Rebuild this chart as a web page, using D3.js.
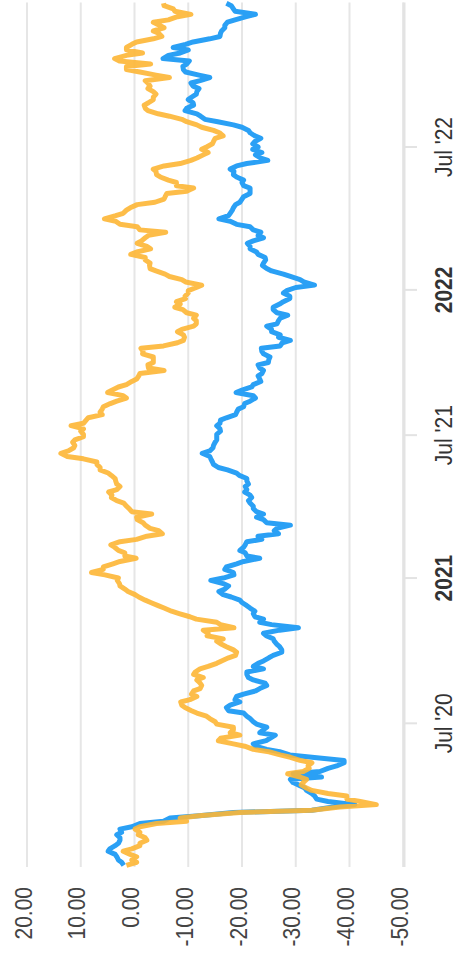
<!DOCTYPE html>
<html>
<head>
<meta charset="utf-8">
<script src="https://cdn.jsdelivr.net/npm/d3@7"></script>
<style>
  html, body { margin: 0; padding: 0; background: #ffffff; }
  svg { display: block; }
  text { font-family: "Liberation Sans", Arial, Helvetica, sans-serif; }
</style>
</head>
<body>
<svg id="chart" width="458" height="964"></svg>
<script>
// Twice-weekly closes (Friday and the following Tuesday), cumulative change in percent
const firstFriday = "2020-01-03";

const valueTicks = [20, 10, 0, -10, -20, -30, -40, -50];
const dateTicks = ["2020-07-01", "2021-01-01", "2021-07-01", "2022-01-01", "2022-07-01"];
const dateTickLabels = ["Jul '20", "2021", "Jul '21", "2022", "Jul '22"];
const boldTicks = ["2021", "2022"];

const blueFriday = [
  2.0, 3.0, 3.6, 4.6, 3.0, 2.7, 2.4, 0.5, -5.4, -12.0,
  -33.0, -41.0, -33.9, -33.0, -31.7, -29.5, -34.8, -34.5, -37.6, -39.0,
  -28.9, -24.6, -22.1, -25.2, -23.3, -24.6, -22.1, -20.9, -17.5, -17.8,
  -18.7, -20.3, -23.3, -24.3, -21.2, -20.9, -22.1, -24.0, -25.8, -27.4,
  -26.5, -25.8, -24.0, -30.5, -23.3, -22.4, -22.4, -20.9, -19.6, -16.5,
  -16.8, -16.5, -16.5, -18.4, -17.1, -20.3, -20.9, -19.6, -20.6, -23.7,
  -26.8, -26.5, -24.6, -22.7, -22.7, -22.1, -21.2, -21.5, -20.9, -21.2,
  -20.9, -19.0, -15.6, -14.5, -14.0, -14.0, -14.7, -15.3, -15.3, -15.9,
  -15.9, -17.1, -19.0, -20.3, -21.5, -22.1, -20.0, -22.1, -23.3, -23.7,
  -23.3, -24.9, -25.2, -23.7, -27.1, -29.0, -27.1, -25.5, -26.5, -27.1,
  -26.5, -25.8, -27.7, -28.9, -28.3, -33.5, -30.8, -27.7, -24.6, -24.0,
  -24.3, -22.7, -21.5, -22.1, -23.0, -22.1, -19.0, -15.7, -17.8, -18.4,
  -19.6, -20.3, -21.5, -20.3, -20.3, -18.4, -17.8, -20.9, -23.5, -23.7,
  -23.0, -22.4, -22.4, -21.2, -18.4, -13.1, -11.6, -9.7, -10.9, -10.6,
  -11.6, -10.9, -12.2, -12.0, -9.1, -9.7, -5.3, -8.5, -7.2, -10.9,
  -15.9, -16.2, -16.8, -18.7, -22.5, -18.4, -17.1
];
const blueTuesday = [
  2.4, 3.3, 4.9, 3.6, 2.7, 3.3, 2.7, -1.0, -6.6, -18.4,
  -37.0, -36.0, -33.5, -32.0, -30.5, -29.0, -29.5, -36.0, -39.0, -33.0,
  -27.0, -22.5, -24.5, -26.2, -24.0, -22.7, -21.5, -20.3, -17.1, -19.6,
  -19.0, -22.5, -24.6, -22.1, -20.9, -24.0, -23.0, -25.0, -27.4, -27.0,
  -26.0, -24.5, -27.0, -25.5, -24.0, -22.1, -21.5, -20.0, -18.0, -15.7,
  -17.5, -14.2, -18.5, -16.8, -19.0, -23.3, -20.6, -20.3, -20.9, -23.0,
  -26.0, -29.0, -24.0, -24.0, -22.1, -21.5, -21.8, -20.5, -20.6, -20.9,
  -19.5, -17.3, -14.7, -14.2, -12.6, -14.6, -15.0, -15.3, -16.0, -15.3,
  -16.0, -18.8, -19.3, -20.5, -22.5, -18.9, -21.8, -23.5, -23.0, -24.0,
  -23.0, -25.0, -24.0, -23.6, -27.5, -26.8, -25.5, -24.6, -26.8, -28.5,
  -25.8, -27.0, -28.9, -27.7, -30.0, -31.5, -29.0, -25.5, -23.8, -24.4,
  -23.0, -21.5, -21.0, -24.0, -23.5, -21.5, -17.8, -17.5, -18.2, -18.8,
  -20.0, -21.5, -21.5, -20.0, -19.0, -18.5, -19.0, -24.8, -22.5, -22.0,
  -22.0, -23.5, -21.5, -20.0, -15.5, -12.3, -9.4, -11.0, -10.0, -11.5,
  -12.0, -10.5, -14.0, -9.5, -9.0, -10.2, -6.3, -10.0, -9.5, -14.0,
  -16.0, -16.8, -17.3, -20.8, -18.7, -18.0
];

const orangeFriday = [
  1.5, 0.5, 0.8, 0.5, -1.0, -2.0, -1.0, -1.0, -9.7, -12.0,
  -33.0, -45.0, -39.5, -36.0, -32.0, -31.4, -30.8, -31.4, -32.3, -30.8,
  -27.1, -22.1, -18.4, -16.0, -17.8, -18.4, -15.0, -13.4, -10.6, -8.8,
  -10.3, -10.6, -12.2, -12.2, -12.8, -11.3, -13.7, -16.2, -18.8, -18.4,
  -16.2, -16.5, -13.7, -18.5, -15.3, -10.3, -6.9, -4.4, -2.0, -0.1,
  1.8, 2.8, 3.0, 8.0, 5.8, 2.7, 1.8, 3.0, 4.4, -0.4,
  -5.2, -2.9, -1.6, -0.4, 0.5, 1.5, 3.3, 4.2, 3.3, 3.3,
  3.6, 4.9, 6.4, 7.0, 12.5, 12.3, 11.1, 11.1, 9.5, 9.5,
  9.5, 8.6, 6.4, 5.8, 3.3, 2.1, 4.2, 1.5, -0.4, -1.0,
  -2.6, -3.5, -3.5, -1.6, -5.4, -9.1, -9.1, -8.8, -11.5, -11.0,
  -9.7, -7.5, -7.8, -9.4, -10.0, -12.5, -8.8, -5.7, -2.9, -2.9,
  -2.0, -0.4, -2.3, -1.3, -2.6, -1.0, 2.7, 5.6, 2.1, 0.8,
  -3.8, -5.7, -9.7, -7.8, -6.3, -4.1, -3.5, -8.5, -11.6, -13.7,
  -13.4, -14.7, -16.5, -14.7, -11.6, -8.8, -4.4, -2.0, -2.6, -3.5,
  -3.5, -2.9, -2.0, -4.0, 1.5, -3.0, 3.7, -1.5, 1.5, -0.4,
  -5.1, -3.5, -4.7, -6.3, -10.5, -7.2, -5.4
];
const orangeTuesday = [
  -0.4, -0.4, 2.1, -1.0, -2.3, -0.7, -0.1, -4.1, -8.5, -19.6,
  -38.2, -42.0, -39.5, -33.0, -31.0, -32.0, -28.5, -32.5, -33.0, -29.0,
  -25.0, -20.5, -15.6, -19.6, -18.4, -15.3, -14.0, -11.6, -9.4, -8.6,
  -11.6, -11.0, -12.5, -11.6, -11.0, -12.2, -15.3, -17.5, -19.0, -17.1,
  -15.3, -13.5, -12.8, -16.0, -11.5, -8.3, -5.5, -3.0, -0.8, 1.2,
  2.7, 3.2, 5.5, 5.8, 4.0, -0.3, 1.8, 3.7, 2.7, -2.3,
  -4.5, -2.0, -0.5, -3.2, 1.0, 2.0, 4.3, 4.8, 2.7, 3.5,
  4.3, 6.4, 7.0, 9.5, 13.7, 11.3, 11.5, 9.5, 10.0, 11.8,
  9.0, 6.0, 6.0, 4.5, 1.5, 5.0, 3.0, 0.5, -0.8, -5.5,
  -2.5, -3.5, -1.5, -1.2, -8.0, -9.3, -8.0, -11.0, -11.5, -11.5,
  -9.0, -8.5, -9.5, -10.0, -11.5, -9.5, -6.5, -4.0, -2.8, -2.0,
  0.7, -3.0, -0.5, -2.0, -5.8, -0.5, 3.5, 3.5, 1.5, -0.5,
  -5.5, -6.0, -11.0, -7.8, -4.8, -4.0, -5.5, -10.5, -12.8, -12.5,
  -14.5, -15.0, -15.8, -12.5, -9.7, -6.5, -2.5, -1.8, -3.5, -4.0,
  -2.5, -2.5, -6.5, -1.0, 1.5, 2.8, 1.5, 1.5, 0.5, -3.5,
  -4.5, -5.5, -3.5, -8.0, -7.5, -5.5
];

// The chart is laid out as an ordinary time chart (time left to right)
// and then turned a quarter turn counter-clockwise onto the page.
const pageH = 964;
const parse = d3.utcParse("%Y-%m-%d");
const start = parse(firstFriday);

function toRows(friday, tuesday) {
  const rows = [];
  friday.forEach((v, i) => {
    const fri = d3.utcDay.offset(start, 7 * i);
    rows.push({ date: fri, value: v });
    if (i < tuesday.length) rows.push({ date: d3.utcDay.offset(fri, 4), value: tuesday[i] });
  });
  return rows;
}

const x = d3.scaleUtc()
  .domain([new Date(Date.UTC(2020, 0, 1)), new Date(Date.UTC(2022, 11, 31))])
  .range([97, 961.5]);
const y = d3.scaleLinear().domain([-50, 20]).range([403.25, 27]);

// plain hyphen for negative numbers
const fmt = d3.formatLocale({
  decimal: ".", thousands: ",", grouping: [3], currency: ["$", ""], minus: "-"
}).format(".2f");

const svg = d3.select("#chart");
const g = svg.append("g").attr("transform", `translate(0,${pageH}) rotate(-90)`);

// horizontal grid
g.append("g").selectAll("line")
  .data(valueTicks)
  .join("line")
  .attr("x1", x.range()[0]).attr("x2", x.range()[1])
  .attr("y1", d => y(d)).attr("y2", d => y(d))
  .attr("stroke", "#e6e6e6").attr("stroke-width", 2);

// time axis line and ticks
g.append("line")
  .attr("x1", x.range()[0]).attr("x2", x.range()[1])
  .attr("y1", 404).attr("y2", 404)
  .attr("stroke", "#e3e3e3").attr("stroke-width", 3);

g.append("g").selectAll("line")
  .data(dateTicks)
  .join("line")
  .attr("x1", d => x(parse(d))).attr("x2", d => x(parse(d)))
  .attr("y1", 404).attr("y2", 417)
  .attr("stroke", "#e3e3e3").attr("stroke-width", 2);

g.append("g").selectAll("text")
  .data(dateTicks)
  .join("text")
  .attr("transform", d => `translate(${x(parse(d))},452) scale(1,1.1)`)
  .attr("text-anchor", "middle")
  .attr("font-size", 21)
  .attr("fill", "#333333")
  .attr("font-weight", (d, i) => boldTicks.includes(dateTickLabels[i]) ? "bold" : "normal")
  .text((d, i) => dateTickLabels[i]);

// value labels
g.append("g").selectAll("text")
  .data(valueTicks)
  .join("text")
  .attr("transform", d => `translate(77,${y(d) + 4.5}) scale(1,1.12)`)
  .attr("text-anchor", "end")
  .attr("font-size", 21)
  .attr("fill", "#444444")
  .text(d => fmt(d));

// series
const line = d3.line()
  .x(d => x(d.date))
  .y(d => y(d.value));

g.append("path")
  .datum(toRows(blueFriday, blueTuesday))
  .attr("d", line)
  .attr("fill", "none")
  .attr("stroke", "#2aa0f5")
  .attr("stroke-width", 5)
  .attr("stroke-linejoin", "round");

g.append("path")
  .datum(toRows(orangeFriday, orangeTuesday))
  .attr("d", line)
  .attr("fill", "none")
  .attr("stroke", "#fdb635")
  .attr("stroke-opacity", 0.9)
  .attr("stroke-width", 5)
  .attr("stroke-linejoin", "round");
</script>
</body>
</html>
